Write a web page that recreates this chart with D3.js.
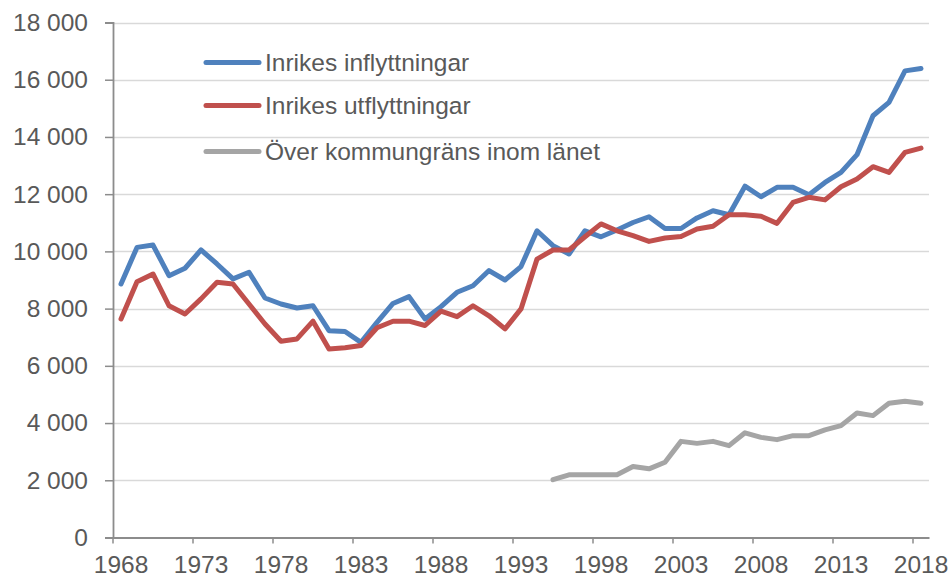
<!DOCTYPE html>
<html>
<head>
<meta charset="utf-8">
<script src="https://cdn.jsdelivr.net/npm/d3@7"></script>
<style>
  html, body { margin: 0; padding: 0; background: #fff; }
  svg { display: block; font-family: "Liberation Sans", Arial, sans-serif; }
</style>
</head>
<body>
<svg id="chart" width="951" height="576"></svg>
<script>
const years = d3.range(1968, 2019);
const tickYears = [1968, 1973, 1978, 1983, 1988, 1993, 1998, 2003, 2008, 2013, 2018];
const yTicks = [0, 2000, 4000, 6000, 8000, 10000, 12000, 14000, 16000, 18000];
const seriesNames = ["Inrikes inflyttningar", "Inrikes utflyttningar", "Över kommungräns inom länet"];

const inflyttningar = [8860, 10140, 10220, 9150, 9410, 10050, 9560, 9040, 9270, 8370,
  8160, 8020, 8100, 7230, 7200, 6820, 7520, 8180, 8420, 7640,
  8070, 8570, 8800, 9330, 9000, 9470, 10720, 10200, 9910, 10720,
  10510, 10750, 11010, 11210, 10800, 10800, 11170, 11420, 11280, 12280,
  11910, 12240, 12240, 11980, 12410, 12760, 13380, 14740, 15210, 16310, 16390];

const utflyttningar = [7640, 8940, 9210, 8100, 7810, 8340, 8920, 8860, 8160, 7460,
  6860, 6940, 7560, 6590, 6630, 6710, 7330, 7560, 7560, 7410,
  7910, 7720, 8100, 7750, 7290, 7990, 9730, 10050, 10050, 10510,
  10960, 10720, 10550, 10350, 10470, 10520, 10780, 10880, 11280, 11280,
  11230, 10980, 11710, 11890, 11800, 12260, 12530, 12960, 12760, 13460, 13610];

const lanetYears = d3.range(1995, 2019);
const lanet = [2020, 2190, 2190, 2190, 2190, 2480, 2400, 2630, 3360, 3290,
  3360, 3210, 3660, 3500, 3420, 3560, 3560, 3760, 3910, 4350,
  4260, 4690, 4760, 4690];

const colors = ["#4F81BD", "#C0504D", "#A5A5A5"];

const svg = d3.select("#chart");
const x = d3.scaleBand().domain(years).range([113, 929]).paddingInner(0).paddingOuter(0);
const bw = x.bandwidth();
const cx = yr => x(yr) + bw / 2;
const y = d3.scaleLinear().domain([0, 18000]).range([537.5, 22.5]);

const locale = d3.formatLocale({ decimal: ",", thousands: "\u00a0", grouping: [3], currency: ["", " kr"] });
const fmt = locale.format(",d");

// gridlines
svg.append("g").selectAll("line")
  .data(yTicks.filter(d => d > 0))
  .join("line")
  .attr("x1", 113).attr("x2", 929)
  .attr("y1", d => Math.round(y(d)) + 0.5).attr("y2", d => Math.round(y(d)) + 0.5)
  .attr("stroke", "#d9d9d9").attr("stroke-width", 1.6);

// y axis
const yAxis = svg.append("g").attr("transform", "translate(113,0)")
  .call(d3.axisLeft(y).tickValues(yTicks).tickFormat(fmt).tickSize(8).tickPadding(17));
yAxis.select(".domain").attr("stroke", "#8c8c8c").attr("stroke-width", 1.8);
yAxis.selectAll(".tick line").attr("stroke", "#8c8c8c").attr("stroke-width", 1.5);
yAxis.selectAll(".tick text").attr("fill", "#595959").attr("font-size", 24.5)
  .attr("font-family", "'Liberation Sans', Arial, sans-serif");

// x axis
const xAxis = svg.append("g").attr("transform", "translate(0,537.5)")
  .call(d3.axisBottom(x).tickValues(tickYears).tickSize(6).tickSizeOuter(0).tickPadding(12));
xAxis.select(".domain").attr("stroke", "#8c8c8c").attr("stroke-width", 1.8);
xAxis.selectAll(".tick line").attr("stroke", "#8c8c8c").attr("stroke-width", 1.5)
  .attr("transform", `translate(${-bw / 2},0)`);
xAxis.selectAll(".tick text").attr("fill", "#595959").attr("font-size", 24.5)
  .attr("font-family", "'Liberation Sans', Arial, sans-serif");

// lines
const line = d3.line().x(d => cx(d[0])).y(d => y(d[1])).curve(d3.curveLinear);
const series = [
  years.map((yr, i) => [yr, inflyttningar[i]]),
  years.map((yr, i) => [yr, utflyttningar[i]]),
  lanetYears.map((yr, i) => [yr, lanet[i]])
];
svg.append("g").selectAll("path")
  .data(series)
  .join("path")
  .attr("d", line)
  .attr("fill", "none")
  .attr("stroke", (d, i) => colors[i])
  .attr("stroke-width", 5)
  .attr("stroke-linejoin", "round")
  .attr("stroke-linecap", "round");

// legend
const legend = svg.append("g");
const rowY = [62.5, 105.5, 151.5];
seriesNames.forEach((name, i) => {
  legend.append("line")
    .attr("x1", 206).attr("x2", 259)
    .attr("y1", rowY[i]).attr("y2", rowY[i])
    .attr("stroke", colors[i]).attr("stroke-width", 5).attr("stroke-linecap", "round");
  legend.append("text")
    .attr("x", 265).attr("y", rowY[i]).attr("dy", "0.35em")
    .attr("fill", "#595959").attr("font-size", 24.5)
    .text(name);
});
</script>
</body>
</html>
